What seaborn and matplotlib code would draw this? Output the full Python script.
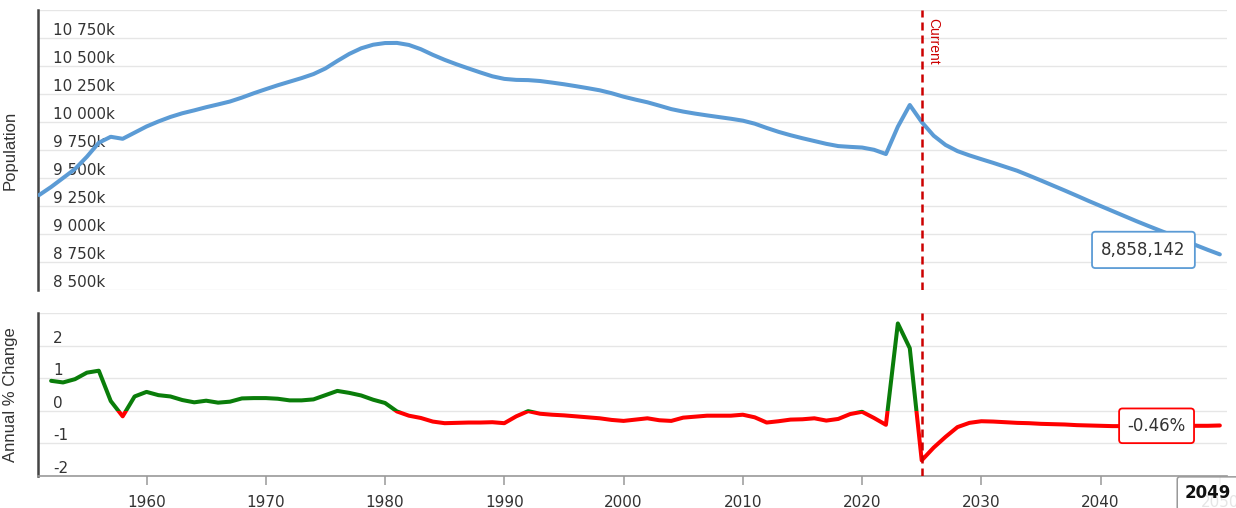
import numpy as np
import pandas as pd
import matplotlib
matplotlib.use('Agg')
import matplotlib.pyplot as plt
import seaborn as sns
from matplotlib.patches import Rectangle

# Population (thousands), 1951-2050
pop_years = list(range(1951, 2051))
population_k = [
    9348, 9420, 9500, 9580, 9690, 9815, 9868, 9850, 9905, 9960,
    10005, 10045, 10078, 10104, 10132, 10157, 10183, 10218, 10257, 10293,
    10328, 10360, 10392, 10428, 10478, 10545, 10608, 10658, 10690, 10705,
    10706, 10688, 10650, 10600, 10555, 10515, 10478, 10442, 10408, 10385,
    10376, 10374, 10366, 10352, 10337, 10320, 10302, 10283, 10257, 10226,
    10200, 10176, 10146, 10115, 10093, 10075, 10059, 10044, 10029, 10012,
    9985, 9947, 9912, 9882, 9855, 9830, 9805, 9785, 9778, 9772,
    9752, 9714, 9958, 10152, 10000, 9878, 9795, 9740, 9702, 9668,
    9635, 9600, 9565, 9522, 9478, 9433, 9388, 9342, 9295, 9250,
    9205, 9160, 9115, 9072, 9030, 8988, 8945, 8900, 8858, 8818,
]

# Annual % change, 1952-2050
chg_years = list(range(1952, 2051))
annual_change = [
    0.92, 0.87, 0.97, 1.17, 1.23, 0.30, -0.17, 0.44, 0.58,
    0.48, 0.44, 0.33, 0.26, 0.31, 0.25, 0.28, 0.38, 0.39, 0.39,
    0.37, 0.32, 0.32, 0.35, 0.48, 0.61, 0.55, 0.47, 0.34, 0.24,
    -0.02, -0.15, -0.22, -0.33, -0.38, -0.37, -0.36, -0.36, -0.35, -0.38,
    -0.17, -0.01, -0.09, -0.12, -0.14, -0.17, -0.20, -0.23, -0.28, -0.31,
    -0.27, -0.23, -0.29, -0.31, -0.21, -0.18, -0.15, -0.15, -0.15, -0.12,
    -0.20, -0.36, -0.32, -0.27, -0.26, -0.23, -0.30, -0.25, -0.10, -0.03,
    -0.22, -0.43, 2.68, 1.92, -1.52, -1.13, -0.80, -0.50, -0.37, -0.32,
    -0.33, -0.35, -0.37, -0.38, -0.40, -0.41, -0.42, -0.44, -0.45, -0.46,
    -0.47, -0.47, -0.48, -0.48, -0.47, -0.47, -0.47, -0.46, -0.46, -0.45,
]

current_year = 2025
hover_year = 2049
hover_pop = 8858142
hover_chg = -0.46

pop_ticks = list(range(8500, 11001, 250))
chg_ticks = [-2, -1, 0, 1, 2, 3]
year_ticks = list(range(1960, 2051, 10))

sns.set_style('white')
plt.rcParams['font.family'] = ['DejaVu Sans']
narrow = ['Liberation Sans Narrow', 'Liberation Sans', 'DejaVu Sans']

W, H = 1236, 508
fig = plt.figure(figsize=(W / 100, H / 100), dpi=100)
ax1 = fig.add_axes([38 / W, 1 - 290 / H, 1189 / W, 280 / H])
ax2 = fig.add_axes([38 / W, 1 - 476 / H, 1189 / W, 163 / H])

pop_df = pd.DataFrame({'year': pop_years, 'pop': population_k})
chg_df = pd.DataFrame({'year': chg_years, 'chg': annual_change})

# top panel: population
sns.lineplot(data=pop_df, x='year', y='pop', ax=ax1, color='#5b9bd5',
             linewidth=2.9, solid_joinstyle='round', zorder=3)

# bottom panel: change, green above zero, red below
sns.lineplot(data=chg_df, x='year', y='chg', ax=ax2, color='#0a7d0a',
             linewidth=2.9, solid_joinstyle='round', zorder=3)
green_line = ax2.lines[-1]
sns.lineplot(data=chg_df, x='year', y='chg', ax=ax2, color='#ff0000',
             linewidth=2.9, solid_joinstyle='round', zorder=3)
red_line = ax2.lines[-1]
green_line.set_clip_path(Rectangle((1900, 0), 200, 10, transform=ax2.transData))
red_line.set_clip_path(Rectangle((1900, -10), 200, 10, transform=ax2.transData))

xmin, xmax = 1950.9, 2050.6
for ax in (ax1, ax2):
    ax.set_xlim(xmin, xmax)
    ax.grid(axis='y', color='#e6e6e6', linewidth=1)
    ax.grid(axis='x', visible=False)
    for s in ('top', 'right', 'bottom'):
        ax.spines[s].set_visible(False)
    ax.spines['left'].set_color('#444444')
    ax.spines['left'].set_linewidth(1.8)
    ax.set_xlabel('')
    ax.axvline(current_year, color='#cc0000', linewidth=1.8,
               dashes=(3.2, 2), zorder=4)

ax1.set_ylim(8500, 11000)
ax1.set_yticks(pop_ticks)
ax1.set_yticklabels([f'{v:,}'.replace(',', ' ') + 'k' if v < 11000 else '' for v in pop_ticks])
ax1.set_xticks([])

ax2.set_ylim(-2, 3)
ax2.set_yticks(chg_ticks)
ax2.set_yticklabels([str(v) if v < 3 else '' for v in chg_ticks])
ax2.set_xticks(year_ticks)
ax2.set_xticklabels([str(y) for y in year_ticks])
ax2.spines['bottom'].set_visible(True)
ax2.spines['bottom'].set_color('#999999')
ax2.spines['bottom'].set_linewidth(1.2)
ax2.tick_params(axis='x', length=6.5, width=1.1, color='#999999', pad=7,
                labelsize=11, labelcolor='#333333', bottom=True)

for ax in (ax1, ax2):
    ax.tick_params(axis='y', length=0, pad=-11, labelsize=11, labelcolor='#333333')
    for lbl in ax.get_yticklabels():
        lbl.set_horizontalalignment('left')
        lbl.set_verticalalignment('bottom')

ax1.set_ylabel('Population', fontsize=12, family=narrow, color='#333333', labelpad=8)
ax2.set_ylabel('Annual % Change', fontsize=12, family=narrow, color='#333333', labelpad=8)
ax1.yaxis.set_label_coords(-0.017, 0.5)
ax2.yaxis.set_label_coords(-0.017, 0.5)

ax1.annotate('Current', xy=(current_year, 11000), xytext=(3, -6),
             textcoords='offset points', rotation=270, ha='left', va='top',
             fontsize=10, family=narrow, color='#cc0000')

# hover tooltips
ax1.annotate(f'{hover_pop:,}', xy=(hover_year, hover_pop / 1000), xytext=(-16, 0),
             textcoords='offset points', ha='right', va='center', fontsize=12,
             color='#333333', zorder=6,
             bbox=dict(boxstyle='round,pad=0.55,rounding_size=0.2', fc='white',
                       ec='#5b9bd5', lw=1.3))
ax2.annotate(f'{hover_chg:.2f}%', xy=(hover_year, hover_chg), xytext=(-16, 0),
             textcoords='offset points', ha='right', va='center', fontsize=12,
             color='#333333', zorder=6,
             bbox=dict(boxstyle='round,pad=0.5,rounding_size=0.2', fc='white',
                       ec='#ff0000', lw=1.3))
ax2.annotate(str(hover_year), xy=(hover_year, -2), xytext=(0, -12.5),
             textcoords='offset points', ha='center', va='center', fontsize=12,
             fontweight='bold', color='#111111', annotation_clip=False, zorder=6,
             bbox=dict(boxstyle='round,pad=0.45,rounding_size=0.15',
                       fc=(1, 1, 1, 0.88), ec='#999999', lw=1.1))

plt.savefig('out.png', dpi=100)
